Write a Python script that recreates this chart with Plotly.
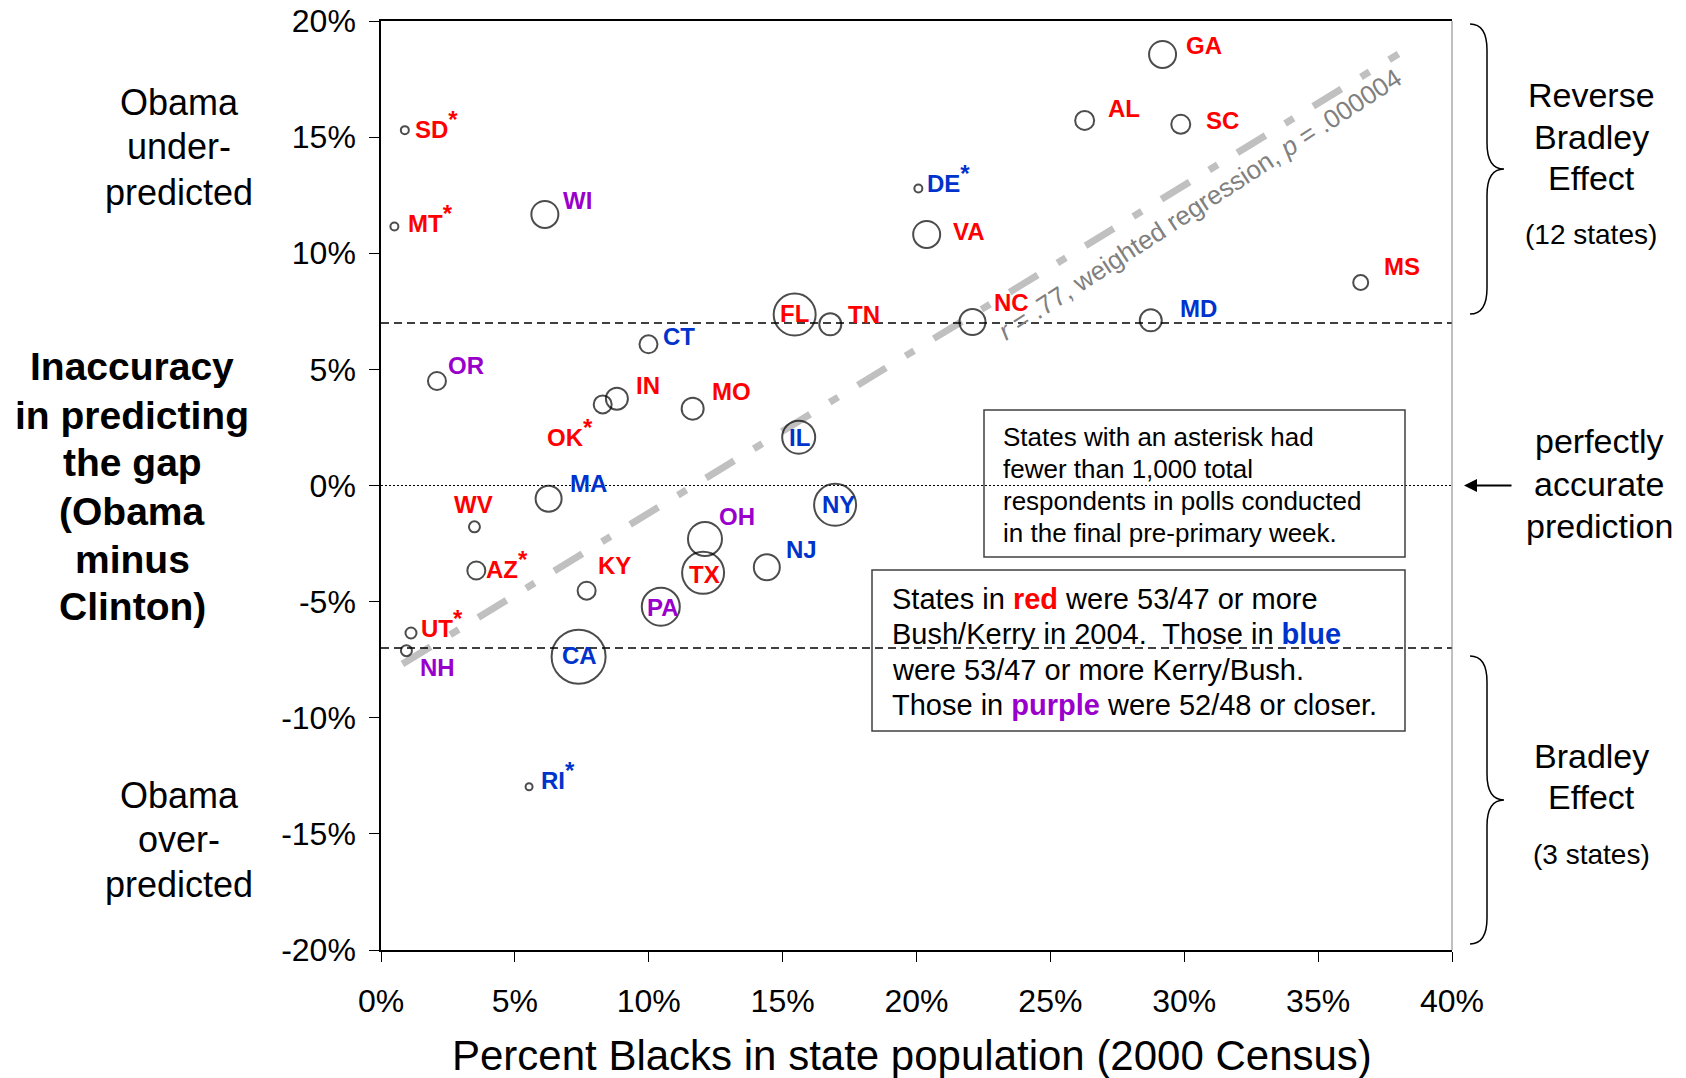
import plotly.graph_objects as go

# ---------------- data ----------------
states = ["SD", "MT", "WI", "DE", "VA", "FL", "TN", "CT", "GA", "AL", "SC", "MS", "NC", "MD",
          "OR", "OK", "IN", "MO", "IL", "MA", "NY", "WV", "OH", "AZ", "NJ", "TX", "KY", "PA",
          "UT", "NH", "CA", "RI"]
pct_black = [0.89, 0.50, 6.12, 20.07, 20.38, 15.45, 16.78, 9.99, 29.19, 26.28, 29.87, 36.59, 22.09, 28.75,
             2.09, 8.28, 8.81, 11.64, 15.60, 6.26, 16.96, 3.49, 12.10, 3.56, 14.41, 12.03, 7.68, 10.45,
             1.12, 0.95, 7.38, 5.53]
gap_error = [15.30, 11.15, 11.67, 12.79, 10.81, 7.36, 6.94, 6.08, 18.56, 15.72, 15.55, 8.74, 7.04, 7.11,
             4.50, 3.49, 3.74, 3.31, 2.08, -0.57, -0.83, -1.78, -2.30, -3.66, -3.52, -3.76, -4.53, -5.22,
             -6.35, -7.11, -7.37, -12.97]
poll_weight = [8, 8, 27, 8, 27, 42, 22, 18, 27, 19, 19, 15, 26, 22,
               18, 18, 22, 22, 33, 26, 42, 11, 34, 18, 26, 42, 18, 38,
               11, 11, 54, 7]
lean_2004 = ["R", "R", "S", "D", "R", "R", "R", "D", "R", "R", "R", "R", "R", "D",
             "S", "R", "R", "R", "D", "D", "D", "R", "S", "R", "D", "R", "R", "S",
             "R", "S", "D", "D"]
small_sample = ["SD", "MT", "DE", "OK", "AZ", "UT", "RI"]

fit_slope = 0.706
fit_intercept = -8.25
fit_x = [0.8, 38.0]
bradley_threshold = 7

x_ticks = [0, 5, 10, 15, 20, 25, 30, 35, 40]
y_ticks = [-20, -15, -10, -5, 0, 5, 10, 15, 20]

# ---------------- styling ----------------
FONT = "Liberation Sans, Arial, sans-serif"
lean_colors = {"R": "#FF0000", "D": "#0033CC", "S": "#9900CC"}

# label placement: (xanchor, dx px, dy px downward)
label_place = {
    "SD": ("left", 8, -6), "MT": ("left", 12, -8), "WI": ("left", 16, -14), "DE": ("left", 7, -10),
    "VA": ("left", 24, -3), "FL": ("center", 0, -1), "TN": ("left", 16, -10), "CT": ("left", 13, -8),
    "GA": ("left", 21, -9), "AL": ("left", 21, -12), "SC": ("left", 23, -4), "MS": ("left", 21, -16),
    "NC": ("left", 20, -20), "MD": ("left", 27, -12), "OR": ("left", 9, -15), "OK": ("right", -8, 28),
    "IN": ("left", 17, -13), "MO": ("left", 17, -17), "IL": ("center", 1, 0), "MA": ("left", 19, -15),
    "NY": ("center", 3, 0), "WV": ("center", -1, -22), "OH": ("left", 12, -22), "AZ": ("left", 8, -6),
    "NJ": ("left", 17, -18), "TX": ("center", 1, 2), "KY": ("left", 9, -25), "PA": ("center", 2, 1),
    "UT": ("left", 8, -9), "NH": ("left", 12, 17), "CA": ("center", 1, -1), "RI": ("left", 10, -11),
}

W, H = 1686, 1078
L, R, T, B = 381, 1452, 21, 950


def px_x(p):
    return (p - L) / (R - L)


def px_y(p):
    return (B - p) / (B - T)


fig = go.Figure()

# regression line
fig.add_trace(go.Scatter(
    x=fit_x, y=[fit_intercept + fit_slope * v for v in fit_x],
    mode="lines", line=dict(color="#C0C0C0", width=7, dash="33px,23px,10px,23px"),
    hoverinfo="skip", showlegend=False))

# bubbles
fig.add_trace(go.Scatter(
    x=pct_black, y=gap_error, mode="markers",
    marker=dict(symbol="circle-open", size=poll_weight, color="black", line=dict(width=2, color="black")),
    text=states, showlegend=False))

annotations = []

# state labels
for st, xv, yv, ln in zip(states, pct_black, gap_error, lean_2004):
    anchor, dx, dy = label_place[st]
    txt = f"<b>{st}</b>"
    if st in small_sample:
        txt += "<b><sup><span style='font-size:24px'>*</span></sup></b>"
    annotations.append(dict(
        x=xv, y=yv, xref="x", yref="y", text=txt, showarrow=False,
        xanchor=anchor, yanchor="middle", xshift=dx, yshift=-dy,
        font=dict(family=FONT, size=24, color=lean_colors[ln])))

# regression label
annotations.append(dict(
    x=30.6, y=12.1, xref="x", yref="y",
    text="<i>r</i> = .77, weighted regression, <i>p</i> = .000004",
    showarrow=False, textangle=-33, xanchor="center", yanchor="middle",
    font=dict(family=FONT, size=26, color="#808080")))


def add_line(text, cx, cy, size, bold=False, color="black"):
    annotations.append(dict(
        xref="paper", yref="paper", x=px_x(cx), y=px_y(cy),
        text=f"<b>{text}</b>" if bold else text, showarrow=False,
        xanchor="center", yanchor="middle",
        font=dict(family=FONT, size=size, color=color)))


def add_left_line(text, lx, cy, size):
    annotations.append(dict(
        xref="paper", yref="paper", x=px_x(lx), y=px_y(cy),
        text=text, showarrow=False, xanchor="left", yanchor="middle",
        font=dict(family=FONT, size=size, color="black")))


# left side labels
for t, cy in zip(["Obama", "under-", "predicted"], [102, 147, 192]):
    add_line(t, 179, cy, 36)
for t, cy in zip(["Inaccuracy", "in predicting", "the gap", "(Obama", "minus", "Clinton)"],
                 [367, 415, 462, 511, 559, 606]):
    add_line(t, 132, cy, 39, bold=True)
for t, cy in zip(["Obama", "over-", "predicted"], [795, 839, 884]):
    add_line(t, 179, cy, 36)

# right side labels
for t, cy in zip(["Reverse", "Bradley", "Effect"], [95, 137, 178]):
    add_line(t, 1591, cy, 34)
add_line("(12 states)", 1591, 234, 28)
for t, cy in zip(["perfectly", "accurate", "prediction"], [441, 484, 526]):
    add_line(t, 1599, cy, 34)
for t, cy in zip(["Bradley", "Effect"], [756, 797]):
    add_line(t, 1591, cy, 34)
add_line("(3 states)", 1591, 854, 28)

# x axis title
add_line("Percent Blacks in state population (2000 Census)", 912, 1055, 42)

# arrow to the 0% line
annotations.append(dict(
    xref="paper", yref="y", x=px_x(1464), y=0, ax=49, ay=0, text="",
    showarrow=True, arrowhead=2, arrowsize=1.3, arrowwidth=2, arrowcolor="black"))

# text boxes
box1 = ["States with an asterisk had", "fewer than 1,000 total",
        "respondents in polls conducted", "in the final pre-primary week."]
for t, cy in zip(box1, [437, 469, 501, 533]):
    add_left_line(t, 1001, cy, 26)
box2 = ["States in <b><span style='color:#FF0000'>red</span></b> were 53/47 or more",
        "Bush/Kerry in 2004.  Those in <b><span style='color:#0033CC'>blue</span></b>",
        "were 53/47 or more Kerry/Bush.",
        "Those in <b><span style='color:#9900CC'>purple</span></b> were 52/48 or closer."]
for t, cy in zip(box2, [599, 634, 670, 705]):
    add_left_line(t, 890, cy, 29)

shapes = []
# reference lines
for yv in (bradley_threshold, -bradley_threshold):
    shapes.append(dict(type="line", xref="x", yref="y", x0=0, x1=40, y0=yv, y1=yv,
                       line=dict(color="black", width=1.5, dash="8px,5px")))
shapes.append(dict(type="line", xref="x", yref="y", x0=0, x1=40, y0=0, y1=0,
                   line=dict(color="black", width=1, dash="2px,2px")))
# right frame line
shapes.append(dict(type="line", xref="paper", yref="paper", x0=1, x1=1, y0=0, y1=1,
                   line=dict(color="#808080", width=1)))
# boxes
shapes.append(dict(type="rect", xref="paper", yref="paper",
                   x0=px_x(984), x1=px_x(1405), y0=px_y(410), y1=px_y(557),
                   line=dict(color="#404040", width=1.5)))
shapes.append(dict(type="rect", xref="paper", yref="paper",
                   x0=px_x(872), x1=px_x(1405), y0=px_y(570), y1=px_y(731),
                   line=dict(color="#404040", width=1.5)))


def brace(top, bot, x_end, x_body, x_tip):
    yt, yb = px_y(top), px_y(bot)
    ym = (yt + yb) / 2
    r = (yt - yb) * 0.09
    xe, xb, xt = px_x(x_end), px_x(x_body), px_x(x_tip)
    return (f"M {xe},{yt} Q {xb},{yt} {xb},{yt - r} L {xb},{ym + r} "
            f"Q {xb},{ym} {xt},{ym} Q {xb},{ym} {xb},{ym - r} "
            f"L {xb},{yb + r} Q {xb},{yb} {xe},{yb}")


shapes.append(dict(type="path", xref="paper", yref="paper", path=brace(24, 314, 1470, 1487, 1504),
                   line=dict(color="black", width=1.5)))
shapes.append(dict(type="path", xref="paper", yref="paper", path=brace(656, 944, 1470, 1487, 1504),
                   line=dict(color="black", width=1.5)))

fig.update_layout(
    width=W, height=H,
    margin=dict(l=L, r=W - R, t=T, b=H - B, pad=0, autoexpand=False),
    paper_bgcolor="white", plot_bgcolor="white",
    font=dict(family=FONT, color="black"),
    showlegend=False,
    annotations=annotations,
    shapes=shapes,
    xaxis=dict(range=[0, 40], tickvals=x_ticks, ticktext=[f"{v}%" for v in x_ticks],
               automargin=False,
               showgrid=False, zeroline=False, showline=True, linecolor="black", linewidth=1.5,
               mirror=True, ticks="outside", ticklen=10, tickcolor="black", tickwidth=1,
               ticklabelstandoff=12, tickfont=dict(family=FONT, size=32, color="black")),
    yaxis=dict(range=[-20, 20], tickvals=y_ticks, ticktext=[f"{v}%" for v in y_ticks],
               automargin=False,
               showgrid=False, zeroline=False, showline=True, linecolor="black", linewidth=1.5,
               ticks="outside", ticklen=10, tickcolor="black", tickwidth=1,
               ticklabelstandoff=7, tickfont=dict(family=FONT, size=32, color="black")),
)

fig.write_html("out.html", config={"displayModeBar": False},
               post_script="document.body.style.margin='0px';")
